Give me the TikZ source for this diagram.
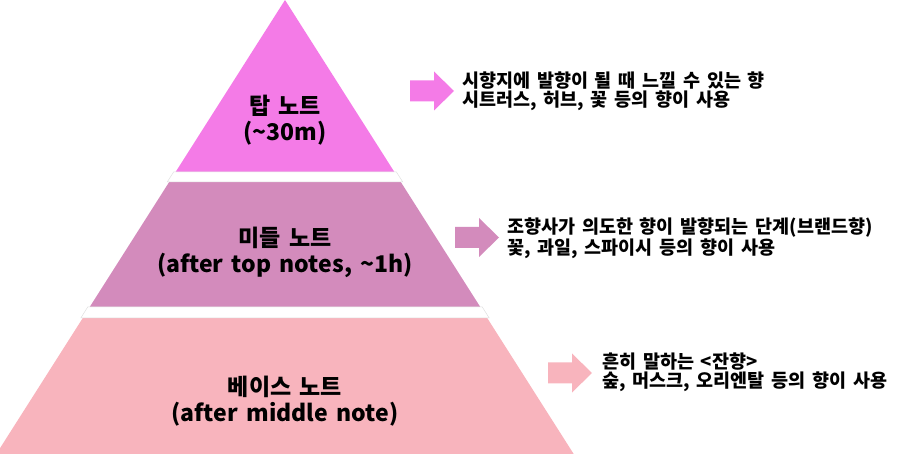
\documentclass[tikz,border=0pt]{standalone}
\usepackage{fontspec}
\setmainfont{Noto Sans CJK KR}
\newfontfamily\tierfont{Noto Sans CJK KR}[WordSpace=2.0]
\newfontfamily\descfont{Noto Sans CJK KR}[WordSpace=1.6]
\usetikzlibrary{positioning}

\definecolor{topnote}{HTML}{F47BE7}
\definecolor{midnote}{HTML}{D38BBC}
\definecolor{basenote}{HTML}{F8B4BD}

\begin{document}
\begin{tikzpicture}[
    x=1pt, y=-1pt,
    tier/.style={align=center, inner sep=0pt,
        font=\tierfont\fontsize{23}{26}\selectfont\bfseries},
    desc/.style={align=left, anchor=north west, inner sep=0pt,
        font=\descfont\fontsize{18.5}{19}\selectfont\bfseries},
    gap/.style={fill=white, draw=black!12, line width=0.5pt}
]
    \useasboundingbox (0,0) rectangle (900,454);
    \clip (0,0) rectangle (900,454);

    % Pyramid tiers
    \fill[topnote] (285,0) -- (394.4,172) -- (175.6,172) -- cycle;
    \fill[midnote] (169.2,182) -- (400.8,182) -- (480.3,307) -- (89.7,307) -- cycle;
    \fill[basenote] (82.8,318) -- (487.2,318) -- (573.7,454) -- (-3.7,454) -- cycle;

    % White bands between tiers
    \draw[gap] (173.6,172) -- (396.4,172) -- (402.8,182) -- (167.2,182) -- cycle;
    \draw[gap] (87.7,307) -- (482.3,307) -- (489.2,318) -- (80.8,318) -- cycle;

    % Tier labels
    \node[tier] (toplabel) at (285,120) {탑 노트\\(\textasciitilde30m)};
    \node[tier] (midlabel) at (285,252) {미들 노트\\(after top notes, \textasciitilde1h)};
    \node[tier] (baselabel) at (285,401) {베이스 노트\\(after middle note)};

    % Block arrows pointing to the descriptions
    \foreach \ax/\ay/\col in {410/91/topnote, 455/237.5/midnote, 548/373/basenote} {
        \fill[\col] (\ax,\ay-10.5) -- ++(24,0) -- ++(0,-9) -- ++(20,19.5)
            -- ++(-20,19.5) -- ++(0,-9) -- ++(-24,0) -- cycle;
    }

    % Descriptions
    \node[desc] (topdesc) at (462,72) {시향지에 발향이 될 때 느낄 수 있는 향\\시트러스, 허브, 꽃 등의 향이 사용};
    \node[desc] (middesc) at (507,218) {조향사가 의도한 향이 발향되는 단계(브랜드향)\\꽃, 과일, 스파이시 등의 향이 사용};
    \node[desc] (basedesc) at (602,353) {흔히 말하는 <잔향>\\숲, 머스크, 오리엔탈 등의 향이 사용};

\end{tikzpicture}
\end{document}
